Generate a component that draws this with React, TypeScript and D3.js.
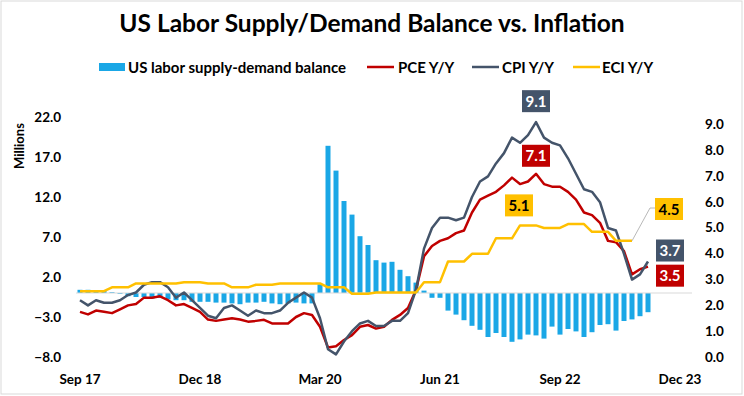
import React, { useEffect, useRef } from 'react';
import * as d3 from 'd3';

// monthly, Sep 2017 .. Aug 2023
const laborBalance = [
    0.4, 0.4, 0.3, 0.3,
    0.1, -0.1, -0.4, -0.5, -0.5, -0.7, -0.6, -0.8, -0.9, -0.9, -1.1, -1.1,
    -1.1, -1.2, -1.2, -1.3, -1.4, -1.2, -1.2, -1.1, -1.3, -1.4, -1.3, -1.2,
    -1.3, -1.3, 1.1, 18.4, 15.3, 11.5, 9.8, 7.1, 6.0, 4.1, 3.8, 3.9,
    2.9, 2.1, 1.3, 0.3, -0.6, -0.6, -2.2, -2.7, -3.4, -4.1, -4.6, -5.5,
    -5.0, -5.5, -6.1, -5.8, -5.2, -5.3, -5.7, -4.2, -5.2, -4.5, -4.8, -5.5,
    -4.9, -4.0, -3.9, -4.7, -3.5, -3.3, -2.9, -2.4,
];

const pce = [
    1.75, 1.65, 1.8, 1.75,
    1.7, 1.85, 2.0, 2.05, 2.3, 2.3, 2.35, 2.2, 2.0, 2.05, 1.9, 1.75,
    1.45, 1.4, 1.45, 1.5, 1.45, 1.37, 1.4, 1.44, 1.3, 1.3, 1.3, 1.55,
    1.7, 1.63, 1.17, 0.37, 0.42, 0.66, 0.85, 1.17, 1.24, 1.1, 1.17, 1.44,
    1.63, 1.9, 2.6, 3.9, 4.3, 4.5, 4.6, 4.8, 4.9, 5.6, 6.1, 6.25,
    6.4, 6.65, 6.95, 6.7, 6.8, 7.1, 6.7, 6.6, 6.6, 6.4, 6.1, 5.6,
    5.5, 5.2, 4.5, 4.45, 4.1, 3.2, 3.4, 3.5,
];

const cpi = [
    2.2, 2.0, 2.2, 2.1,
    2.1, 2.2, 2.4, 2.5, 2.8, 2.9, 2.9, 2.7, 2.3, 2.5, 2.2, 1.9,
    1.6, 1.5, 1.9, 2.0, 1.8, 1.6, 1.8, 1.7, 1.7, 1.8, 2.1, 2.3,
    2.5, 2.3, 1.5, 0.3, 0.1, 0.6, 1.0, 1.3, 1.4, 1.2, 1.2, 1.4,
    1.4, 1.7, 2.6, 4.2, 5.0, 5.4, 5.4, 5.3, 5.4, 6.2, 6.8, 7.0,
    7.5, 7.9, 8.5, 8.3, 8.6, 9.1, 8.5, 8.3, 8.2, 7.7, 7.1, 6.5,
    6.4, 6.0, 5.0, 4.9, 4.0, 3.0, 3.2, 3.7,
];

// quarterly ECI shown on each month of its quarter, Sep 2017 .. Jun 2023
const eci = [
    2.55, 2.55, 2.55, 2.55,
    2.7, 2.7, 2.7, 2.85, 2.85, 2.85, 2.85, 2.85, 2.85, 2.9, 2.9, 2.9,
    2.85, 2.85, 2.85, 2.7, 2.7, 2.7, 2.8, 2.8, 2.8, 2.85, 2.85, 2.85,
    2.85, 2.85, 2.85, 2.7, 2.7, 2.7, 2.45, 2.45, 2.45, 2.5, 2.5, 2.5,
    2.5, 2.5, 2.5, 2.9, 2.9, 2.9, 3.7, 3.7, 3.7, 4.0, 4.0, 4.0,
    4.6, 4.6, 4.6, 5.1, 5.1, 5.1, 5.0, 5.0, 5.0, 5.15, 5.15, 5.15,
    4.85, 4.85, 4.85, 4.5, 4.5, 4.5,
];

const xTickLabels = ['Sep 17', 'Dec 18', 'Mar 20', 'Jun 21', 'Sep 22', 'Dec 23'];
const xTickIndex = [0, 15, 30, 45, 60, 75];
const leftTicks = [-8, -3, 2, 7, 12, 17, 22];
const rightTicks = [0, 1, 2, 3, 4, 5, 6, 7, 8, 9];

const legendItems = ['US labor supply-demand balance', 'PCE Y/Y', 'CPI Y/Y', 'ECI Y/Y'];

const BLUE = '#1aa7e6';
const RED = '#c00000';
const GRAY = '#44546a';
const GOLD = '#ffc000';
const FONT = 'Lato, "Open Sans", sans-serif';

const App: React.FC = () => {
    const ref = useRef<SVGSVGElement>(null);

    useEffect(() => {
        const svg = d3.select(ref.current);
        svg.selectAll('*').remove();

        const x = d3.scaleLinear().domain([0, 75]).range([80, 680]);
        const yL = d3.scaleLinear().domain([-8, 22]).range([357, 117]);
        const yR = d3.scaleLinear().domain([0, 9.3]).range([357, 117]);

        svg.append('rect')
            .attr('x', 1).attr('y', 1).attr('width', 741).attr('height', 393)
            .attr('fill', '#fff').attr('stroke', '#d9d9d9');

        svg.append('text')
            .attr('x', 372).attr('y', 32)
            .attr('text-anchor', 'middle')
            .attr('font-family', FONT).attr('font-weight', 700).attr('font-size', 24.5)
            .attr('fill', '#000')
            .text('US Labor Supply/Demand Balance vs. Inflation');

        // legend
        const leg = svg.append('g').attr('font-family', FONT).attr('font-weight', 700).attr('font-size', 15);
        leg.append('rect').attr('x', 99).attr('y', 63).attr('width', 26).attr('height', 8).attr('fill', BLUE);
        leg.append('text').attr('x', 128).attr('y', 72.5).text(legendItems[0]);
        const legLines = [
            { x1: 367, tx: 398, c: RED, t: legendItems[1] },
            { x1: 472, tx: 502, c: GRAY, t: legendItems[2] },
            { x1: 573, tx: 602, c: GOLD, t: legendItems[3] },
        ];
        legLines.forEach(l => {
            leg.append('line').attr('x1', l.x1).attr('x2', l.x1 + 27).attr('y1', 67).attr('y2', 67)
                .attr('stroke', l.c).attr('stroke-width', 2.5);
            leg.append('text').attr('x', l.tx).attr('y', 72.5).text(l.t);
        });

        // axis labels
        svg.append('text')
            .attr('transform', 'translate(24,146) rotate(-90)')
            .attr('text-anchor', 'middle')
            .attr('font-family', FONT).attr('font-weight', 700).attr('font-size', 13)
            .text('Millions');

        svg.append('g').selectAll('text').data(leftTicks).enter().append('text')
            .attr('x', 61).attr('y', d => yL(d) + 4.5)
            .attr('text-anchor', 'end')
            .attr('font-family', FONT).attr('font-weight', 700).attr('font-size', 13.5)
            .text(d => d3.format('.1f')(d));

        svg.append('g').selectAll('text').data(rightTicks).enter().append('text')
            .attr('x', 705).attr('y', d => yR(d) + 4.5)
            .attr('font-family', FONT).attr('font-weight', 700).attr('font-size', 13.5)
            .text(d => d3.format('.1f')(d));

        svg.append('g').selectAll('text').data(xTickIndex).enter().append('text')
            .attr('x', d => x(d)).attr('y', 384)
            .attr('text-anchor', 'middle')
            .attr('font-family', FONT).attr('font-weight', 700).attr('font-size', 13.5)
            .text((d, i) => xTickLabels[i]);

        // bars
        svg.append('g').selectAll('rect').data(laborBalance).enter().append('rect')
            .attr('x', (d, i) => x(i) - 2.5)
            .attr('width', 5)
            .attr('y', d => yL(Math.max(0, d)))
            .attr('height', d => Math.abs(yL(d) - yL(0)))
            .attr('fill', BLUE);

        svg.append('line')
            .attr('x1', x(-0.5)).attr('x2', x(76.5))
            .attr('y1', yL(0)).attr('y2', yL(0))
            .attr('stroke', '#d9d9d9').attr('stroke-width', 1);

        const line = d3.line<number>().x((d, i) => x(i)).y(d => yR(d));
        [{ d: pce, c: RED }, { d: cpi, c: GRAY }, { d: eci, c: GOLD }].forEach(s => {
            svg.append('path').datum(s.d)
                .attr('d', line)
                .attr('fill', 'none')
                .attr('stroke', s.c)
                .attr('stroke-width', 2.5)
                .attr('stroke-linejoin', 'round');
        });

        // data labels
        const iCpiMax = d3.maxIndex(cpi);
        const iPceMax = d3.maxIndex(pce);
        const iEciMax = 55;
        const last = cpi.length - 1;
        const lastEci = eci.length - 1;

        svg.append('polyline')
            .attr('points', `${x(lastEci)},${yR(eci[lastEci])} 650,208 656,208`)
            .attr('fill', 'none').attr('stroke', '#a6a6a6').attr('stroke-width', 0.8);

        const labels = [
            { cx: x(iCpiMax), cy: yR(cpi[iCpiMax]) - 21, v: cpi[iCpiMax], bg: GRAY, fg: '#fff' },
            { cx: x(iPceMax), cy: yR(pce[iPceMax]) - 18, v: pce[iPceMax], bg: RED, fg: '#fff' },
            { cx: x(iEciMax) - 1, cy: yR(eci[iEciMax]) - 20, v: eci[iEciMax], bg: GOLD, fg: '#000' },
            { cx: 669, cy: 209, v: eci[lastEci], bg: GOLD, fg: '#000' },
            { cx: 670, cy: yR(cpi[last]) - 11, v: cpi[last], bg: GRAY, fg: '#fff' },
            { cx: 670, cy: yR(pce[last]) + 9, v: pce[last], bg: RED, fg: '#fff' },
        ];
        labels.forEach(l => {
            const g = svg.append('g');
            g.append('rect')
                .attr('x', l.cx - 14).attr('y', l.cy - 11).attr('width', 28).attr('height', 22)
                .attr('fill', l.bg);
            g.append('text')
                .attr('x', l.cx).attr('y', l.cy + 5.5)
                .attr('text-anchor', 'middle')
                .attr('font-family', FONT).attr('font-weight', 700).attr('font-size', 15)
                .attr('fill', l.fg)
                .text(d3.format('.1f')(l.v));
        });
    }, []);

    return (
        <svg ref={ref} width={744} height={396} style={{ position: 'absolute', left: 0, top: 0 }} />
    );
};

export default App;
